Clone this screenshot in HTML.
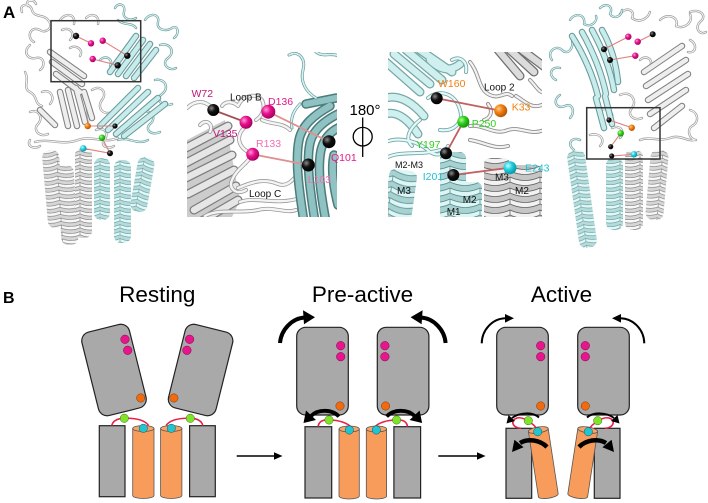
<!DOCTYPE html>
<html><head><meta charset="utf-8">
<style>
html,body{margin:0;padding:0;background:#fff;}
svg{display:block;}
text{font-family:"Liberation Sans",Arial,sans-serif;}
</style></head><body>
<svg width="708" height="503" viewBox="0 0 708 503" xmlns="http://www.w3.org/2000/svg">
<defs>
 <pattern id="hg" width="20" height="7" patternUnits="userSpaceOnUse">
  <rect width="20" height="7" fill="#d6d6d6"/>
  <path d="M0,0.5 Q10,5 20,0.5 L20,3.8 Q10,8.3 0,3.8Z" fill="#f8f8f8" stroke="#7a7a7a" stroke-width="0.6"/>
 </pattern>
 <pattern id="hc" width="20" height="7" patternUnits="userSpaceOnUse">
  <rect width="20" height="7" fill="#b4dcdc"/>
  <path d="M0,0.5 Q10,5 20,0.5 L20,3.8 Q10,8.3 0,3.8Z" fill="#e2f8f8" stroke="#6a9a9a" stroke-width="0.6"/>
 </pattern>
 <pattern id="hg2" width="30" height="11" patternUnits="userSpaceOnUse">
  <rect width="30" height="11" fill="#c6c6c6"/>
  <path d="M0,1 Q15,8 30,1 L30,6 Q15,13 0,6Z" fill="#f2f2f2" stroke="#666" stroke-width="0.8"/>
 </pattern>
 <pattern id="hc2" width="30" height="11" patternUnits="userSpaceOnUse">
  <rect width="30" height="11" fill="#a8d2d2"/>
  <path d="M0,1 Q15,8 30,1 L30,6 Q15,13 0,6Z" fill="#dcf6f6" stroke="#5f8f8f" stroke-width="0.8"/>
 </pattern>
 <radialGradient id="bk" cx="0.35" cy="0.35" r="0.7"><stop offset="0" stop-color="#8a8a8a"/><stop offset="0.45" stop-color="#111"/><stop offset="1" stop-color="#000"/></radialGradient>
 <radialGradient id="mg" cx="0.35" cy="0.35" r="0.7"><stop offset="0" stop-color="#ff9ad6"/><stop offset="0.45" stop-color="#e8108c"/><stop offset="1" stop-color="#a0005e"/></radialGradient>
 <radialGradient id="og" cx="0.35" cy="0.35" r="0.7"><stop offset="0" stop-color="#ffc888"/><stop offset="0.45" stop-color="#f08010"/><stop offset="1" stop-color="#b05000"/></radialGradient>
 <radialGradient id="gr" cx="0.35" cy="0.35" r="0.7"><stop offset="0" stop-color="#b8ff98"/><stop offset="0.45" stop-color="#30d020"/><stop offset="1" stop-color="#109000"/></radialGradient>
 <radialGradient id="cy" cx="0.35" cy="0.35" r="0.7"><stop offset="0" stop-color="#c8ffff"/><stop offset="0.45" stop-color="#20d0e0"/><stop offset="1" stop-color="#0890a0"/></radialGradient>

 <!-- left overview -->
 <g id="gL">
  <path d="M22,12 C18,4 30,2 32,10 C34,18 44,14 48,20"/>
  <path d="M48,20 C55,28 45,34 40,30 C30,25 26,38 34,42"/>
  <path d="M30,45 C22,52 28,60 36,58 C44,56 46,66 40,70"/>
  <path d="M25,72 C30,80 22,88 30,92 C38,96 34,104 42,106"/>
  <path d="M30,112 C38,108 44,118 38,124 C32,130 40,138 48,134"/>
  <path d="M35,142 C50,138 62,146 78,140 C92,135 104,144 118,138"/>
  <path d="M60,20 C66,12 76,14 74,24"/>
  <path d="M42,92 C50,88 56,98 50,104"/>
  <path d="M92,90 C100,84 108,92 102,100 C96,108 104,116 112,112"/>
  <path d="M88,100 C84,110 92,118 86,126"/>
  <path d="M96,130 C104,126 110,134 104,140 C100,146 108,150 114,146"/>
  <path d="M86,18 C92,12 100,16 98,24"/>
  <path d="M70,48 C76,44 84,50 80,56"/>
  <path d="M28,6 C24,0 34,-2 36,4"/>
  <path d="M30,140 C26,146 34,150 40,146"/>
  <path d="M62,30 C70,26 76,34 70,40"/>
 </g>
 <g id="cL">
  <path d="M115,8 C118,2 126,4 124,12 C122,18 130,22 136,18"/>
  <path d="M145,20 C150,12 160,14 158,22 C156,30 166,32 172,28 C178,24 180,34 174,38"/>
  <path d="M160,45 C170,42 176,52 168,58 C160,64 170,72 176,68"/>
  <path d="M155,80 C165,78 170,88 162,94 C154,100 164,108 172,104"/>
  <path d="M140,112 C150,108 158,118 150,124 C144,130 152,136 160,132"/>
  <path d="M118,20 C124,26 132,22 136,28"/>
  <path d="M100,60 C106,54 114,60 110,66"/>
  <path d="M118,140 C128,136 138,146 148,140"/>
 </g>
 <g id="gSL">
  <path d="M50,52 L84,76"/><path d="M52,62 L82,84"/><path d="M56,74 L80,92"/>
  <path d="M60,92 L68,126"/><path d="M68,90 L77,126"/><path d="M76,88 L85,122"/><path d="M84,92 L92,118"/>
  <path d="M40,110 L55,125"/>
 </g>
 <g id="cSL">
  <path d="M110,72 L136,36"/><path d="M118,74 L143,40"/><path d="M126,76 L150,44"/><path d="M134,78 L156,50"/>
  <path d="M100,126 L138,88"/><path d="M108,130 L148,92"/><path d="M116,134 L158,98"/><path d="M124,136 L165,104"/>
 </g>
 <!-- right overview -->
 <g id="cR">
  <path d="M552,60 C546,52 556,44 562,50 C568,56 574,48 572,40"/>
  <path d="M556,80 C548,76 550,66 560,68"/>
  <path d="M560,95 C552,100 556,110 565,106 C572,102 576,112 570,118"/>
  <path d="M580,140 C572,136 566,144 574,150"/>
  <path d="M570,20 C575,12 586,14 584,24 C590,28 598,22 596,16"/>
  <path d="M600,8 C606,2 614,6 610,14 C614,20 622,16 622,10"/>
 </g>
 <g id="gR">
  <path d="M620,14 C626,6 636,10 632,18 C640,24 648,18 650,12"/>
  <path d="M660,20 C668,12 680,18 676,26 C684,30 694,22 690,14"/>
  <path d="M690,12 C700,8 708,16 700,22 C694,28 700,36 706,32"/>
  <path d="M690,40 C698,44 696,54 688,52"/>
  <path d="M690,110 C698,112 700,122 692,126 C686,130 690,140 696,140"/>
  <path d="M640,140 C650,136 660,142 670,138 C680,134 688,142 694,140"/>
  <path d="M620,95 C630,90 638,100 632,108 C626,114 634,122 642,118"/>
  <path d="M612,128 C620,124 626,132 620,138"/>
  <path d="M640,60 C646,54 654,60 650,66"/>
  <path d="M590,135 C600,132 606,140 600,146"/>
  <path d="M600,110 C610,106 616,116 610,122"/>
 </g>
 <g id="cSR">
  <path d="M572,36 C582,52 592,72 598,96"/><path d="M582,32 C592,50 601,70 606,94"/>
  <path d="M592,30 C602,48 610,68 614,90"/><path d="M602,30 C610,44 616,62 618,82"/>
  <path d="M596,98 L604,128"/><path d="M605,96 L612,124"/>
 </g>
 <g id="gSR">
  <path d="M644,72 L682,46"/><path d="M646,86 L686,60"/><path d="M648,100 L688,74"/>
  <path d="M650,114 L686,90"/><path d="M654,128 L682,106"/>
 </g>
 <!-- inset 1 -->
 <g id="i1gs">
  <path d="M186,148 L228,126"/><path d="M186,163 L230,140"/><path d="M186,178 L232,155"/>
  <path d="M188,194 L234,170"/><path d="M194,210 L236,186"/><path d="M200,222 L238,200"/>
 </g>
 <g id="i1lp">
  <path d="M187,108 C195,100 205,100 212,108"/>
  <path d="M222,106 C226,100 234,102 238,106 C242,96 256,92 262,100 C266,108 262,116 256,120"/>
  <path d="M244,128 C236,136 238,146 248,152"/>
  <path d="M250,158 C244,166 236,170 232,180 C228,188 236,196 246,190"/>
  <path d="M238,188 C252,182 264,178 278,184 C288,188 294,178 300,172"/>
  <path d="M240,202 C256,196 276,206 300,198"/>
  <path d="M205,216 C220,208 240,214 258,210 C272,206 286,214 296,210"/>
  <path d="M262,120 C272,125 282,122 290,130"/>
  <path d="M200,125 C206,118 214,124 210,132"/>
 </g>
 <g id="i1ts">
  <path d="M304,222 C299,190 295,160 299,140 C302,125 314,115 330,106"/>
  <path d="M315,222 C310,190 306,162 310,143 C313,130 324,121 338,114"/>
  <path d="M326,222 C321,195 317,170 321,150 C324,138 331,131 340,127"/>
  <path d="M338,205 C333,185 331,168 334,155"/>
  <path d="M306,104 L336,98"/>
 </g>
 <g id="i1cl">
  <path d="M289,55 C298,50 306,58 303,70 C300,82 306,92 316,98"/>
  <path d="M316,52 C324,58 332,52 338,56"/>
  <path d="M300,104 C294,110 290,118 292,128"/>
 </g>
 <!-- inset 2 -->
 <g id="i2cs">
  <path d="M386,62 L420,92"/><path d="M394,54 L430,84"/><path d="M406,50 L442,80"/><path d="M420,50 L452,72"/>
  <path d="M386,98 C400,94 414,104 424,116"/><path d="M386,114 C398,110 410,122 418,134"/>
  <path d="M430,60 C440,70 450,72 460,64"/>
 </g>
 <g id="i2cl">
  <path d="M428,98 C440,88 456,94 460,110 C464,122 454,132 440,130"/>
  <path d="M386,142 C400,136 420,142 430,152 C440,158 446,152 448,146"/>
  <path d="M386,158 C400,150 420,156 440,150"/>
  <path d="M452,60 C460,55 468,62 466,72"/>
  <path d="M420,120 C410,128 404,138 412,146"/>
 </g>
 <g id="i2gs">
  <path d="M498,50 L520,76"/><path d="M510,50 L534,72"/><path d="M522,50 L546,68"/>
 </g>
 <g id="i2gl">
  <path d="M470,62 C480,74 478,90 490,95 C500,100 505,90 512,96"/>
  <path d="M470,126 C484,124 494,136 508,130 C520,126 530,136 544,130"/>
  <path d="M516,96 C526,102 532,110 544,104"/>
  <path d="M470,140 C484,142 494,150 508,146"/>
  <path d="M530,80 C536,86 540,94 544,92"/>
  <path d="M488,104 C494,112 490,118 484,120"/>
 </g>
 <clipPath id="c1"><rect x="187" y="52" width="150" height="165"/></clipPath>
 <clipPath id="c2"><rect x="388" y="52" width="154" height="165"/></clipPath>

 <!-- Panel B halves -->
 <g id="restL">
  <rect x="89.5" y="327" width="49" height="86" rx="9" fill="#a9a9a9" stroke="#222" stroke-width="1.2" transform="rotate(-14 114 370)"/>
  <circle cx="125" cy="339.3" r="4.3" fill="#e8168c" stroke="#7a0a48" stroke-width="0.5"/>
  <circle cx="127.7" cy="350.3" r="4.3" fill="#e8168c" stroke="#7a0a48" stroke-width="0.5"/>
  <circle cx="140.7" cy="398" r="4.2" fill="#f26a10" stroke="#7a3a08" stroke-width="0.5"/>
  <rect x="99.3" y="425.7" width="25.7" height="71" fill="#a9a9a9" stroke="#222" stroke-width="1.2"/>
  <path d="M132.7,428.5 L132.7,495.5 A10.65,3 0 0 0 154,495.5 L154,428.5Z" fill="#f89c5c" stroke="#555" stroke-width="0.8"/>
  <ellipse cx="143.35" cy="428.5" rx="10.65" ry="3" fill="#f8a466" stroke="#555" stroke-width="0.8"/>
  <path d="M111.7,425.7 C113,420 118,418.5 124,418.3 C133,418 144,419 148.5,425.5" fill="none" stroke="#e8204a" stroke-width="1.6"/>
  <circle cx="124.3" cy="418.3" r="4.2" fill="#80e42a" stroke="#3a6a10" stroke-width="0.5"/>
  <circle cx="143.3" cy="428.3" r="4.2" fill="#22c4d0" stroke="#0a5a60" stroke-width="0.5"/>
 </g>
 <g id="preL">
  <rect x="296.7" y="327.3" width="51.6" height="87.7" rx="9" fill="#a9a9a9" stroke="#222" stroke-width="1.2"/>
  <circle cx="340.7" cy="345.7" r="4.3" fill="#e8168c" stroke="#7a0a48" stroke-width="0.5"/>
  <circle cx="340.7" cy="356.7" r="4.3" fill="#e8168c" stroke="#7a0a48" stroke-width="0.5"/>
  <circle cx="340" cy="406" r="4.2" fill="#f26a10" stroke="#7a3a08" stroke-width="0.5"/>
  <path d="M280,343 C281,330 292,318 305,317.5" fill="none" stroke="#000" stroke-width="4"/>
  <polygon points="315,317.3 303,310.3 304,324.3" fill="#000"/>
  <rect x="305" y="426.7" width="26.7" height="71.3" fill="#a9a9a9" stroke="#222" stroke-width="1.2"/>
  <path d="M339,429 L339,496 A10.15,3 0 0 0 359.3,496 L359.3,429Z" fill="#f89c5c" stroke="#555" stroke-width="0.8"/>
  <ellipse cx="349.15" cy="429" rx="10.15" ry="3" fill="#f8a466" stroke="#555" stroke-width="0.8"/>
  <path d="M318,426.7 C319,421 323,419.5 329,420 C339,420 348,423 352,428" fill="none" stroke="#e8204a" stroke-width="1.6"/>
  <path d="M339,416.5 C332,409 318,409 311,416" fill="none" stroke="#000" stroke-width="3.8"/>
  <polygon points="303.5,423 306,410.5 316,420" fill="#000"/>
  <circle cx="329" cy="420" r="4.2" fill="#80e42a" stroke="#3a6a10" stroke-width="0.5"/>
  <circle cx="349.3" cy="430" r="4.2" fill="#22c4d0" stroke="#0a5a60" stroke-width="0.5"/>
 </g>
 <g id="actL">
  <rect x="496.7" y="327.3" width="51.6" height="87.7" rx="9" fill="#a9a9a9" stroke="#222" stroke-width="1.2"/>
  <circle cx="540.7" cy="345.7" r="4.3" fill="#e8168c" stroke="#7a0a48" stroke-width="0.5"/>
  <circle cx="540.7" cy="356.7" r="4.3" fill="#e8168c" stroke="#7a0a48" stroke-width="0.5"/>
  <circle cx="540.7" cy="406" r="4.2" fill="#f26a10" stroke="#7a3a08" stroke-width="0.5"/>
  <path d="M481.7,343.3 C482,330 492,319 505,318.3" fill="none" stroke="#000" stroke-width="2"/>
  <polygon points="514,318.3 505,314 505,322.6" fill="#000"/>
  <rect x="506" y="428.3" width="25.7" height="70" fill="#a9a9a9" stroke="#222" stroke-width="1.2"/>
  <g transform="rotate(-8.7 538.3 430)">
   <path d="M528.3,430 L528.3,496 A10,3 0 0 0 548.3,496 L548.3,430Z" fill="#f89c5c" stroke="#555" stroke-width="0.8"/>
   <ellipse cx="538.3" cy="430" rx="10" ry="3" fill="#f8a466" stroke="#555" stroke-width="0.8"/>
  </g>
  <path d="M521,428.3 C512,428 510,420 517,418 C521,417 525,419 528,420.7 M531,423 C534,425 537,428 537.7,431.7" fill="none" stroke="#e8204a" stroke-width="1.6"/>
  <path d="M539,417.5 C533,412 520,412 512,418" fill="none" stroke="#000" stroke-width="2"/>
  <polygon points="506.5,423.5 508.5,415 515,421" fill="#000"/>
  <circle cx="528.3" cy="420.7" r="4.2" fill="#80e42a" stroke="#3a6a10" stroke-width="0.5"/>
  <circle cx="537.7" cy="431.7" r="4.2" fill="#22c4d0" stroke="#0a5a60" stroke-width="0.5"/>
  <path d="M547,447 C540,440 528,438 520,443" fill="none" stroke="#000" stroke-width="4.5"/>
  <polygon points="512,452 514.4,439.7 523.6,447.3" fill="#000"/>
 </g>
</defs>

<rect width="708" height="503" fill="#fff"/>

<!-- ===== Panel A: left overview ===== -->
<g fill="none" stroke-linecap="round" stroke-linejoin="round">
 <use href="#gL" stroke="#9a9a9a" stroke-width="2.4"/>
 <use href="#gL" stroke="#fafafa" stroke-width="1"/>
 <use href="#cL" stroke="#6f9f9f" stroke-width="2.4"/>
 <use href="#cL" stroke="#e0f8f8" stroke-width="1"/>
 <use href="#gSL" stroke="#808080" stroke-width="6.5"/>
 <use href="#gSL" stroke="#eeeeee" stroke-width="4.4"/>
 <use href="#cSL" stroke="#6a9a9a" stroke-width="6.5"/>
 <use href="#cSL" stroke="#c8ecec" stroke-width="4.4"/>
</g>
<rect x="45" y="150" width="17" height="78" rx="7" fill="url(#hg)" transform="rotate(-5 54 189)"/>
<rect x="59" y="165" width="17" height="80" rx="7" fill="url(#hg)" transform="rotate(-4 67 205)"/>
<rect x="75" y="148" width="17" height="90" rx="7" fill="url(#hg)"/>
<rect x="94" y="158" width="16" height="62" rx="7" fill="url(#hc)"/>
<rect x="114" y="160" width="17" height="83" rx="7" fill="url(#hc)"/>
<rect x="134" y="157" width="17" height="55" rx="7" fill="url(#hc)" transform="rotate(10 142 184)"/>
<g stroke="#e08080" stroke-width="1.1">
 <line x1="76" y1="36" x2="91" y2="43.3"/><line x1="102.7" y1="40.7" x2="127.3" y2="55.7"/>
 <line x1="92.7" y1="59" x2="117.7" y2="65.3"/><line x1="87.7" y1="126" x2="115" y2="126"/>
 <line x1="102" y1="137.7" x2="110" y2="153.3"/><line x1="83.3" y1="148.3" x2="110" y2="153.3"/>
</g>
<circle cx="76" cy="36" r="3.2" fill="url(#bk)"/>
<circle cx="91" cy="43.3" r="3.2" fill="url(#mg)"/>
<circle cx="102.7" cy="40.7" r="3.2" fill="url(#mg)"/>
<circle cx="92.7" cy="59" r="3.2" fill="url(#mg)"/>
<circle cx="127.3" cy="55.7" r="3.2" fill="url(#bk)"/>
<circle cx="117.7" cy="65.3" r="3.2" fill="url(#bk)"/>
<circle cx="87.7" cy="126" r="3.2" fill="url(#og)"/>
<circle cx="115" cy="126" r="2.6" fill="url(#bk)"/>
<circle cx="102" cy="137.7" r="3.2" fill="url(#gr)"/>
<circle cx="83.3" cy="148.3" r="3.2" fill="url(#cy)"/>
<circle cx="110" cy="153.3" r="3" fill="url(#bk)"/>
<rect x="51" y="20.7" width="89.7" height="61" fill="none" stroke="#333" stroke-width="1.5"/>

<!-- ===== right overview ===== -->
<g fill="none" stroke-linecap="round" stroke-linejoin="round">
 <use href="#gR" stroke="#9a9a9a" stroke-width="2.4"/>
 <use href="#gR" stroke="#fafafa" stroke-width="1"/>
 <use href="#cR" stroke="#6f9f9f" stroke-width="2.4"/>
 <use href="#cR" stroke="#e0f8f8" stroke-width="1"/>
 <use href="#gSR" stroke="#808080" stroke-width="6.5"/>
 <use href="#gSR" stroke="#eeeeee" stroke-width="4.4"/>
 <use href="#cSR" stroke="#6a9a9a" stroke-width="6.5"/>
 <use href="#cSR" stroke="#c8ecec" stroke-width="4.4"/>
</g>
<rect x="573" y="150" width="18" height="98" rx="7" fill="url(#hc)" transform="rotate(-8 582 199)"/>
<rect x="606" y="158" width="17" height="72" rx="7" fill="url(#hc)"/>
<rect x="625" y="150" width="18" height="80" rx="7" fill="url(#hg)"/>
<rect x="648" y="150" width="18" height="70" rx="7" fill="url(#hg)" transform="rotate(5 657 185)"/>
<g stroke="#e08080" stroke-width="1.1">
 <line x1="604" y1="49.3" x2="628.3" y2="36.7"/><line x1="637.7" y1="41.7" x2="652.7" y2="34.3"/>
 <line x1="610" y1="60" x2="635.3" y2="55.7"/><line x1="609" y1="120" x2="631.7" y2="127.7"/>
 <line x1="620.7" y1="133.3" x2="610.7" y2="146.7"/><line x1="611.7" y1="156" x2="634" y2="154.3"/>
</g>
<circle cx="628.3" cy="36.7" r="3.2" fill="url(#mg)"/>
<circle cx="637.7" cy="41.7" r="3.2" fill="url(#mg)"/>
<circle cx="652.7" cy="34.3" r="3" fill="url(#bk)"/>
<circle cx="604" cy="49.3" r="3" fill="url(#bk)"/>
<circle cx="610" cy="60" r="3" fill="url(#bk)"/>
<circle cx="635.3" cy="55.7" r="3.2" fill="url(#mg)"/>
<circle cx="631.7" cy="127.7" r="3.2" fill="url(#og)"/>
<circle cx="620.7" cy="133.3" r="3.2" fill="url(#gr)"/>
<circle cx="609" cy="120" r="2.6" fill="url(#bk)"/>
<circle cx="610.7" cy="146.7" r="2.6" fill="url(#bk)"/>
<circle cx="634" cy="154.3" r="3.2" fill="url(#cy)"/>
<circle cx="611.7" cy="156" r="2.6" fill="url(#bk)"/>
<rect x="586.7" y="107.7" width="73.3" height="51.3" fill="none" stroke="#333" stroke-width="1.5"/>

<!-- ===== Inset 1 ===== -->
<g clip-path="url(#c1)" fill="none" stroke-linecap="round" stroke-linejoin="round">
 <path d="M187,140 L225,120 L240,200 L232,217 L187,217Z" fill="#cccccc" stroke="none"/>
 <use href="#i1gs" stroke="#7d7d7d" stroke-width="9"/>
 <use href="#i1gs" stroke="#e6e6e6" stroke-width="6.5"/>
 <use href="#i1lp" stroke="#9a9a9a" stroke-width="4"/>
 <use href="#i1lp" stroke="#f4f4f4" stroke-width="2.4"/>
 <use href="#i1ts" stroke="#4c7c7c" stroke-width="9.5"/>
 <use href="#i1ts" stroke="#8fc2c2" stroke-width="6.5"/>
 <use href="#i1cl" stroke="#6a9a9a" stroke-width="3"/>
 <use href="#i1cl" stroke="#d4f2f2" stroke-width="1.6"/>
</g>
<g stroke-width="1.8">
 <line x1="213.3" y1="110" x2="246" y2="122.3" stroke="#a05050"/>
 <line x1="268.3" y1="111.7" x2="329" y2="141.7" stroke="#e09090"/>
 <line x1="252.7" y1="154.3" x2="308.3" y2="165" stroke="#e09090"/>
</g>
<circle cx="213.3" cy="110" r="6" fill="url(#bk)"/>
<circle cx="246" cy="122.3" r="6.5" fill="url(#mg)"/>
<circle cx="268.3" cy="111.7" r="7" fill="url(#mg)"/>
<circle cx="252.7" cy="154.3" r="6.5" fill="url(#mg)"/>
<circle cx="329" cy="141.7" r="6.5" fill="url(#bk)"/>
<circle cx="308.3" cy="165" r="6.5" fill="url(#bk)"/>
<g font-size="10.5">
 <text x="191.5" y="97" fill="#c0157a">W72</text>
 <text x="230" y="100.5" fill="#111" font-size="10">Loop B</text>
 <text x="268" y="105" fill="#e8168c">D136</text>
 <text x="213" y="137" fill="#c0157a">V135</text>
 <text x="256" y="147" fill="#f070b0">R133</text>
 <text x="331" y="161" fill="#e8168c">Q101</text>
 <text x="307.7" y="183" fill="#f070b0">L103</text>
 <text x="249" y="197" fill="#111" font-size="10">Loop C</text>
</g>

<!-- 180 degree symbol -->
<text x="349.5" y="115" font-size="15" fill="#000">180°</text>
<ellipse cx="362.7" cy="136.7" rx="9.5" ry="9.3" fill="none" stroke="#000" stroke-width="1.3"/>
<line x1="362.7" y1="117.5" x2="362.7" y2="157" stroke="#000" stroke-width="1.3"/>

<!-- ===== Inset 2 ===== -->
<g clip-path="url(#c2)">
 <g fill="none" stroke-linecap="round" stroke-linejoin="round">
  <use href="#i2cs" stroke="#78a8a8" stroke-width="9"/>
  <use href="#i2cs" stroke="#d0f0f0" stroke-width="6.5"/>
  <use href="#i2cl" stroke="#7aa9a9" stroke-width="4"/>
  <use href="#i2cl" stroke="#e4fafa" stroke-width="2.2"/>
  <use href="#i2gs" stroke="#6f6f6f" stroke-width="9"/>
  <use href="#i2gs" stroke="#dcdcdc" stroke-width="6.5"/>
  <use href="#i2gl" stroke="#8f8f8f" stroke-width="4"/>
  <use href="#i2gl" stroke="#f2f2f2" stroke-width="2.2"/>
 </g>
 <rect x="386" y="170" width="28" height="56" rx="6" fill="url(#hc2)" transform="rotate(8 400 198)"/>
 <rect x="440" y="152" width="26" height="70" rx="6" fill="url(#hc2)"/>
 <rect x="458" y="182" width="24" height="40" rx="6" fill="url(#hc2)"/>
 <rect x="484" y="158" width="26" height="66" rx="6" fill="url(#hg2)"/>
 <rect x="510" y="165" width="32" height="60" rx="6" fill="url(#hg2)"/>
</g>
<g stroke-width="1.8" stroke="#c06060">
 <line x1="436.7" y1="98.3" x2="500.7" y2="110.7"/>
 <line x1="463.3" y1="121.7" x2="446" y2="153.3"/>
 <line x1="453.3" y1="175" x2="510" y2="167.7"/>
</g>
<circle cx="436.7" cy="98.3" r="6" fill="url(#bk)"/>
<circle cx="500.7" cy="110.7" r="6.5" fill="url(#og)"/>
<circle cx="463.3" cy="121.7" r="6" fill="url(#gr)"/>
<circle cx="446" cy="153.3" r="6" fill="url(#bk)"/>
<circle cx="453.3" cy="175" r="6" fill="url(#bk)"/>
<circle cx="510" cy="167.7" r="6.5" fill="url(#cy)"/>
<g font-size="10.5">
 <text x="438" y="87" fill="#f08010">W160</text>
 <text x="484" y="90.5" fill="#111" font-size="10">Loop 2</text>
 <text x="511.7" y="110.5" fill="#f08010">K33</text>
 <text x="471.7" y="127" fill="#30d020">P250</text>
 <text x="416" y="148" fill="#30d020">Y197</text>
 <text x="395" y="168" fill="#111" font-size="9">M2-M3</text>
 <text x="422.7" y="180" fill="#20c0d0">I201</text>
 <text x="525" y="171.7" fill="#20c0d0">E243</text>
 <text x="397" y="194" fill="#111" font-size="10">M3</text>
 <text x="495" y="180.5" fill="#111" font-size="10">M3</text>
 <text x="462.7" y="203" fill="#111" font-size="10">M2</text>
 <text x="515" y="194" fill="#111" font-size="10">M2</text>
 <text x="446.7" y="215" fill="#111" font-size="10">M1</text>
</g>

<text x="3" y="18" font-size="17" font-weight="bold" fill="#000">A</text>

<!-- ===== Panel B ===== -->
<text x="3" y="303" font-size="16" font-weight="bold" fill="#000">B</text>
<g font-size="22.5" fill="#000" text-anchor="middle">
 <text x="157.3" y="302">Resting</text>
 <text x="362.5" y="302">Pre-active</text>
 <text x="561.5" y="302">Active</text>
</g>

<use href="#restL"/>
<use href="#restL" transform="translate(314.6,0) scale(-1,1)"/>
<use href="#preL"/>
<use href="#preL" transform="translate(725.6,0) scale(-1,1)"/>
<use href="#actL"/>
<use href="#actL" transform="translate(1126,0) scale(-1,1)"/>

<line x1="236.7" y1="456" x2="276" y2="456" stroke="#000" stroke-width="1.6"/>
<polygon points="282.5,456 274,452.3 274,459.7" fill="#000"/>
<line x1="438.3" y1="456" x2="479" y2="456" stroke="#000" stroke-width="1.6"/>
<polygon points="485.5,456 477,452.3 477,459.7" fill="#000"/>
</svg>
</body></html>
